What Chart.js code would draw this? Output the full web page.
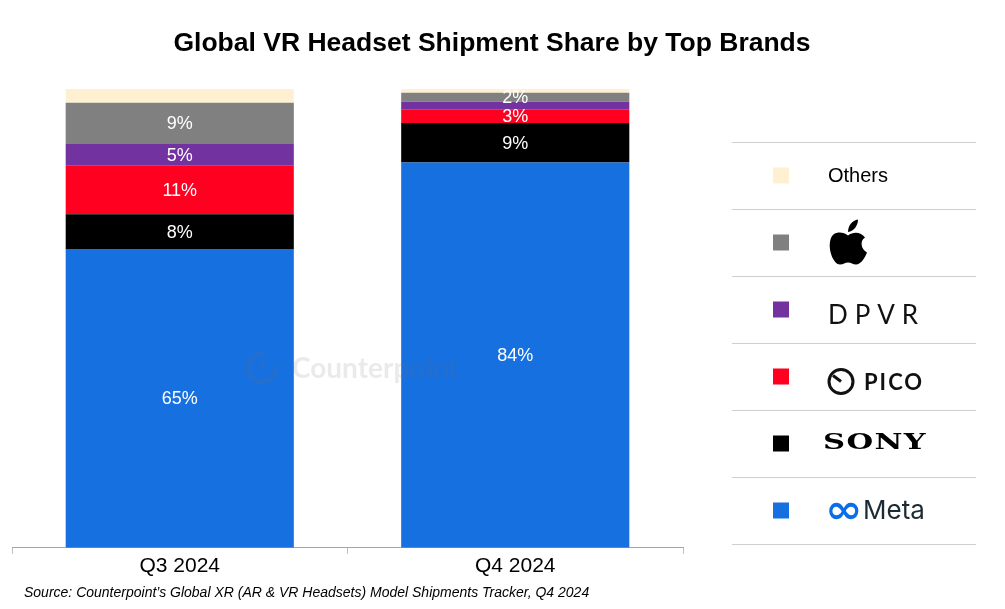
<!DOCTYPE html>
<html>
<head>
<meta charset="utf-8">
<script src="https://cdn.jsdelivr.net/npm/chart.js@4.4.1/dist/chart.umd.min.js"></script>
<style>
    html, body { margin: 0; padding: 0; background: #ffffff; }
    #wrap { position: relative; width: 1005px; height: 609px; }
</style>
</head>
<body>
<div id="wrap"><canvas id="share-chart"></canvas></div>
<script>
// ===== Data =====
const categories = ['Q3 2024', 'Q4 2024'];
const brands = ['Meta', 'Sony', 'PICO', 'DPVR', 'Apple', 'Others'];
const metaShare = [65.1, 84.0];
const sonyShare = [7.6, 8.6];
const picoShare = [10.7, 3.0];
const dpvrShare = [4.6, 1.6];
const appleShare = [9.0, 2.0];
const othersShare = [3.0, 0.8];

const brandColors = ['#1770e0', '#000000', '#ff0021', '#7232a0', '#808080', '#fff0d2'];
const seriesValues = [metaShare, sonyShare, picoShare, dpvrShare, appleShare, othersShare];

const TITLE = 'Global VR Headset Shipment Share by Top Brands';
const SOURCE = 'Source: Counterpoint\u2019s Global XR (AR & VR Headsets) Model Shipments Tracker, Q4 2024';
const FONT = '"Liberation Sans", Arial, sans-serif';

// ===== Brand marks for the legend =====
function drawApple(ctx, x, cy) {
    // small apple silhouette, 38 x 45 box
    const ox = x + 1, oy = cy - 23;
    ctx.save();
    ctx.translate(ox, oy);
    ctx.fillStyle = '#000';
    ctx.beginPath();
    ctx.moveTo(19, 16);
    ctx.bezierCurveTo(14, 12, 4, 11, 1.5, 20);
    ctx.bezierCurveTo(-1.5, 31, 5, 45, 11, 45);
    ctx.bezierCurveTo(14.5, 45, 16, 43, 19, 43);
    ctx.bezierCurveTo(22, 43, 24, 45, 27, 45);
    ctx.bezierCurveTo(32, 45, 36, 38, 38, 33);
    ctx.bezierCurveTo(32, 30, 30.5, 21, 36, 18);
    ctx.bezierCurveTo(32, 12, 24, 12, 19, 16);
    ctx.closePath();
    ctx.fill();
    ctx.beginPath();
    ctx.moveTo(19, 12.5);
    ctx.bezierCurveTo(19, 6, 23, 1, 29, 0);
    ctx.bezierCurveTo(29, 6, 25, 11.5, 19, 12.5);
    ctx.closePath();
    ctx.fill();
    ctx.restore();
}

function drawText(ctx, text, x, cy, font, color, spacing, scaleX) {
    ctx.save();
    ctx.font = font;
    ctx.fillStyle = color;
    ctx.textAlign = 'left';
    ctx.textBaseline = 'middle';
    ctx.letterSpacing = (spacing || 0) + 'px';
    ctx.translate(x, cy);
    ctx.scale(scaleX || 1, 1);
    ctx.fillText(text, 0, 0);
    ctx.restore();
}

const brandMarks = {
    Others: (ctx, x, cy) => drawText(ctx, 'Others', x, cy + 1, '20px ' + FONT, '#000'),
    Apple: (ctx, x, cy) => drawApple(ctx, x, cy),
    DPVR: (ctx, x, cy) => drawText(ctx, 'DPVR', x, cy + 6, '26px Lato, sans-serif', '#111', 7),
    PICO: (ctx, x, cy) => {
        ctx.save();
        ctx.strokeStyle = '#111';
        ctx.lineWidth = 3;
        ctx.beginPath();
        ctx.arc(x + 13, cy + 5, 12, 0, Math.PI * 2);
        ctx.stroke();
        ctx.beginPath();
        ctx.moveTo(x + 5, cy - 1);
        ctx.lineTo(x + 13, cy + 5);
        ctx.stroke();
        ctx.restore();
        drawText(ctx, 'PICO', x + 36, cy + 6, 'bold 22px Lato, sans-serif', '#111', 2);
    },
    Sony: (ctx, x, cy) => drawText(ctx, 'SONY', x - 5, cy, 'bold 23px "DejaVu Serif", serif', '#000', 1, 1.33),
    Meta: (ctx, x, cy) => {
        drawText(ctx, '\u221e', x - 3, cy + 2, 'bold 40px "DejaVu Sans", sans-serif', '#0a6ee8', 0, 1.12);
        drawText(ctx, 'Meta', x + 35, cy + 1, '26px Inter, sans-serif', '#1c2b33');
    }
};

// ===== Plugins =====
const segmentLabels = {
    id: 'segmentLabels',
    afterDatasetsDraw(chart) {
        const { ctx } = chart;
        ctx.save();
        ctx.fillStyle = '#ffffff';
        ctx.font = '18px ' + FONT;
        ctx.textAlign = 'center';
        ctx.textBaseline = 'middle';
        chart.data.datasets.forEach((ds, i) => {
            if (ds.noLabels) return;
            chart.getDatasetMeta(i).data.forEach((bar, j) => {
                const v = ds.data[j];
                if (v < 1.8) return;
                const y = (bar.y + bar.base) / 2;
                ctx.fillText(Math.round(v) + '%', bar.x, y + 1);
            });
        });
        ctx.restore();
    }
};

const watermark = {
    id: 'watermark',
    afterDatasetsDraw(chart) {
        const { ctx } = chart;
        ctx.save();
        ctx.globalAlpha = 0.14;
        ctx.strokeStyle = '#6b6b6b';
        ctx.fillStyle = '#6b6b6b';
        ctx.lineWidth = 5;
        ctx.beginPath();
        ctx.arc(262, 368, 14, -0.15, 1.55 * Math.PI);
        ctx.stroke();
        ctx.beginPath();
        ctx.arc(262, 366, 3, 0, Math.PI * 2);
        ctx.fill();
        ctx.font = 'bold 28px Lato, sans-serif';
        ctx.textAlign = 'left';
        ctx.textBaseline = 'middle';
        ctx.fillText('Counterpoint', 292, 369);
        ctx.restore();
    }
};

const brandLegend = {
    id: 'brandLegend',
    afterDraw(chart) {
        const { ctx } = chart;
        const top = 142, rowH = 67, x0 = 732, x1 = 976;
        const rows = chart.data.datasets.slice().reverse();
        ctx.save();
        ctx.strokeStyle = '#cfcfcf';
        ctx.lineWidth = 1;
        for (let i = 0; i <= rows.length; i++) {
            const y = top + i * rowH + 0.5;
            ctx.beginPath();
            ctx.moveTo(x0, y);
            ctx.lineTo(x1, y);
            ctx.stroke();
        }
        rows.forEach((ds, i) => {
            const cy = top + i * rowH + rowH / 2;
            ctx.fillStyle = ds.backgroundColor;
            ctx.fillRect(773, cy - 8, 16, 16);
            brandMarks[ds.label](ctx, 828, cy);
        });
        ctx.restore();
    }
};

const headerFooter = {
    id: 'headerFooter',
    afterDraw(chart) {
        const { ctx } = chart;
        ctx.save();
        ctx.fillStyle = '#000';
        ctx.textBaseline = 'middle';
        ctx.textAlign = 'center';
        ctx.font = 'bold 26.5px ' + FONT;
        ctx.fillText(TITLE, 492, 44);
        ctx.textAlign = 'left';
        ctx.font = 'italic 14px ' + FONT;
        ctx.fillText(SOURCE, 24, 593);
        ctx.restore();
    }
};

// ===== Chart =====
const datasets = brands.map((name, i) => ({
    label: name,
    data: seriesValues[i],
    backgroundColor: brandColors[i],
    borderWidth: 0,
    categoryPercentage: 1,
    barPercentage: 0.68,
    noLabels: name === 'Others'
}));

new Chart(document.getElementById('share-chart'), {
    type: 'bar',
    data: { labels: categories, datasets },
    options: {
        responsive: true,
        maintainAspectRatio: false,
        animation: false,
        layout: { padding: { left: 12, right: 322, top: 89, bottom: 30 } },
        plugins: {
            legend: { display: false },
            title: { display: false },
            tooltip: { enabled: false }
        },
        scales: {
            x: {
                stacked: true,
                offset: true,
                grid: { offset: true, drawOnChartArea: false, drawTicks: true, tickLength: 6, tickColor: '#bfbfbf' },
                border: { display: true, color: '#a6a6a6', width: 1 },
                ticks: { color: '#000', font: { family: FONT, size: 21 }, padding: 0 }
            },
            y: {
                stacked: true,
                display: false,
                min: 0,
                max: 100
            }
        }
    },
    plugins: [segmentLabels, watermark, brandLegend, headerFooter]
});
</script>
</body>
</html>
